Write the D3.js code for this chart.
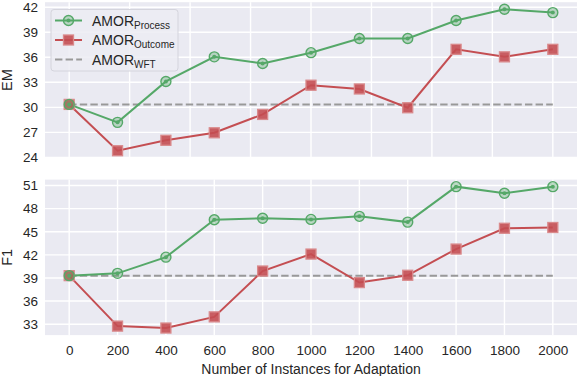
<!DOCTYPE html>
<html>
<head>
<meta charset="utf-8">
<script src="https://cdn.jsdelivr.net/npm/d3@7"></script>
<style>
  body { margin: 0; background: #fff; }
  svg { display: block; font-family: "Liberation Sans", Arial, sans-serif; }
</style>
</head>
<body>
<svg width="578" height="376"></svg>
<script>
// instances used for adaptation
var instances = [0, 200, 400, 600, 800, 1000, 1200, 1400, 1600, 1800, 2000];

// EM scores
var emProcess = [30.35, 28.2, 33.1, 36.05, 35.25, 36.55, 38.25, 38.25, 40.4, 41.75, 41.35];
var emOutcome = [30.35, 24.8, 26.05, 26.95, 29.15, 32.65, 32.2, 29.95, 36.95, 36.05, 36.95];
var emWft = 30.35;
var emTicks = [24, 27, 30, 33, 36, 39, 42];

// F1 scores
var f1Process = [39.3, 39.6, 41.7, 46.55, 46.75, 46.6, 47.0, 46.25, 50.85, 50.0, 50.85];
var f1Outcome = [39.3, 32.75, 32.5, 33.95, 39.9, 42.1, 38.4, 39.35, 42.75, 45.45, 45.55];
var f1Wft = 39.3;
var f1Ticks = [33, 36, 39, 42, 45, 48, 51];

var xTicksTop = d3.range(0, 2001, 250);   // top panel keeps default locator (grid only)
var xTicksBottom = instances;

var green = "#55a868", red = "#c44e52", gray = "#999999";

var svg = d3.select("svg");
var left = 45, right = 577;

var x = d3.scaleLinear().domain([-100, 2100]).range([left, right]);

function padded(a, b) {
  var e = d3.extent(a.concat(b));
  var p = (e[1] - e[0]) * 0.05;
  return [e[0] - p, e[1] + p];
}

function panel(top, bottom, proc, outc, wft, yTicks, xTicks, label, showX) {
  var y = d3.scaleLinear().domain(padded(proc, outc)).range([bottom, top]);
  var g = svg.append("g");

  g.append("rect")
    .attr("x", left).attr("y", top)
    .attr("width", right - left).attr("height", bottom - top)
    .attr("fill", "#eaeaf2");

  g.selectAll(".gx").data(xTicks).enter().append("line")
    .attr("x1", function(d) { return x(d); }).attr("x2", function(d) { return x(d); })
    .attr("y1", top).attr("y2", bottom)
    .attr("stroke", "#fff").attr("stroke-width", 1.4);

  g.selectAll(".gy").data(yTicks).enter().append("line")
    .attr("x1", left).attr("x2", right)
    .attr("y1", function(d) { return y(d); }).attr("y2", function(d) { return y(d); })
    .attr("stroke", "#fff").attr("stroke-width", 1.4);

  var yAxis = g.append("g")
    .attr("transform", "translate(" + left + ",0)")
    .call(d3.axisLeft(y).tickValues(yTicks).tickSize(0).tickPadding(7));
  yAxis.select(".domain").remove();
  yAxis.selectAll("text").attr("font-size", 13.5).attr("fill", "#262626")
    .attr("font-family", "Liberation Sans, Arial, sans-serif");

  if (showX) {
    var xAxis = g.append("g")
      .attr("transform", "translate(0," + bottom + ")")
      .call(d3.axisBottom(x).tickValues(xTicks).tickFormat(d3.format("d")).tickSize(0).tickPadding(10));
    xAxis.select(".domain").remove();
    xAxis.selectAll("text").attr("font-size", 13.5).attr("fill", "#262626")
      .attr("font-family", "Liberation Sans, Arial, sans-serif");
  }

  g.append("text")
    .attr("transform", "translate(12," + ((top + bottom) / 2) + ") rotate(-90)")
    .attr("text-anchor", "middle")
    .attr("font-size", 14.5).attr("fill", "#262626")
    .text(label);

  // baseline
  g.append("line")
    .attr("x1", x(instances[0])).attr("x2", x(instances[instances.length - 1]))
    .attr("y1", y(wft)).attr("y2", y(wft))
    .attr("stroke", gray).attr("stroke-width", 2).attr("stroke-dasharray", "7.4,3.2");

  var line = d3.line()
    .x(function(d, i) { return x(instances[i]); })
    .y(function(d) { return y(d); });

  g.append("path").datum(outc).attr("d", line)
    .attr("fill", "none").attr("stroke", red).attr("stroke-width", 2);
  g.append("path").datum(proc).attr("d", line)
    .attr("fill", "none").attr("stroke", green).attr("stroke-width", 2);

  g.selectAll(".sq").data(outc).enter().append("rect")
    .attr("x", function(d, i) { return x(instances[i]) - 5; })
    .attr("y", function(d) { return y(d) - 5; })
    .attr("width", 10).attr("height", 10)
    .attr("fill", red).attr("fill-opacity", 0.9)
    .attr("stroke", "#d98a8c").attr("stroke-width", 1.3);

  g.selectAll(".ci").data(proc).enter().append("circle")
    .attr("cx", function(d, i) { return x(instances[i]); })
    .attr("cy", function(d) { return y(d); })
    .attr("r", 5)
    .attr("fill", green).attr("fill-opacity", 0.35)
    .attr("stroke", green).attr("stroke-width", 1.4);
  g.selectAll(".cd").data(proc).enter().append("circle")
    .attr("cx", function(d, i) { return x(instances[i]); })
    .attr("cy", function(d) { return y(d); })
    .attr("r", 2)
    .attr("fill", green);
}

panel(2.2, 157.8, emProcess, emOutcome, emWft, emTicks, xTicksTop, "EM", false);
panel(179.6, 335.1, f1Process, f1Outcome, f1Wft, f1Ticks, xTicksBottom, "F1", true);

svg.append("text")
  .attr("x", (left + right) / 2).attr("y", 374)
  .attr("text-anchor", "middle")
  .attr("font-size", 14).attr("fill", "#262626")
  .text("Number of Instances for Adaptation");

// legend
var leg = svg.append("g");
leg.append("rect")
  .attr("x", 51).attr("y", 9.5).attr("width", 127).attr("height", 61.5)
  .attr("rx", 3)
  .attr("fill", "#ececf3").attr("fill-opacity", 0.85)
  .attr("stroke", "#d4d4dc");

var entries = [
  {name: "Process", color: green, kind: "circle"},
  {name: "Outcome", color: red, kind: "square"},
  {name: "WFT", color: gray, kind: "dash"}
];

entries.forEach(function(e, i) {
  var cy = 20.5 + i * 19.5;
  var row = leg.append("g");
  row.append("line")
    .attr("x1", 55).attr("x2", 82).attr("y1", cy).attr("y2", cy)
    .attr("stroke", e.color).attr("stroke-width", 2)
    .attr("stroke-dasharray", e.kind === "dash" ? "7.4,3.2" : null);
  if (e.kind === "circle") {
    row.append("circle").attr("cx", 68.5).attr("cy", cy).attr("r", 5)
      .attr("fill", green).attr("fill-opacity", 0.35)
      .attr("stroke", green).attr("stroke-width", 1.4);
    row.append("circle").attr("cx", 68.5).attr("cy", cy).attr("r", 2).attr("fill", green);
  } else if (e.kind === "square") {
    row.append("rect").attr("x", 63.5).attr("y", cy - 5).attr("width", 10).attr("height", 10)
      .attr("fill", red).attr("fill-opacity", 0.9)
      .attr("stroke", "#d98a8c").attr("stroke-width", 1.3);
  }
  var t = row.append("text")
    .attr("x", 92).attr("y", cy + 5)
    .attr("font-size", 14).attr("fill", "#262626");
  t.append("tspan").text("AMOR");
  t.append("tspan").attr("font-size", 10).attr("dy", 3).text(e.name);
});
</script>
</body>
</html>
